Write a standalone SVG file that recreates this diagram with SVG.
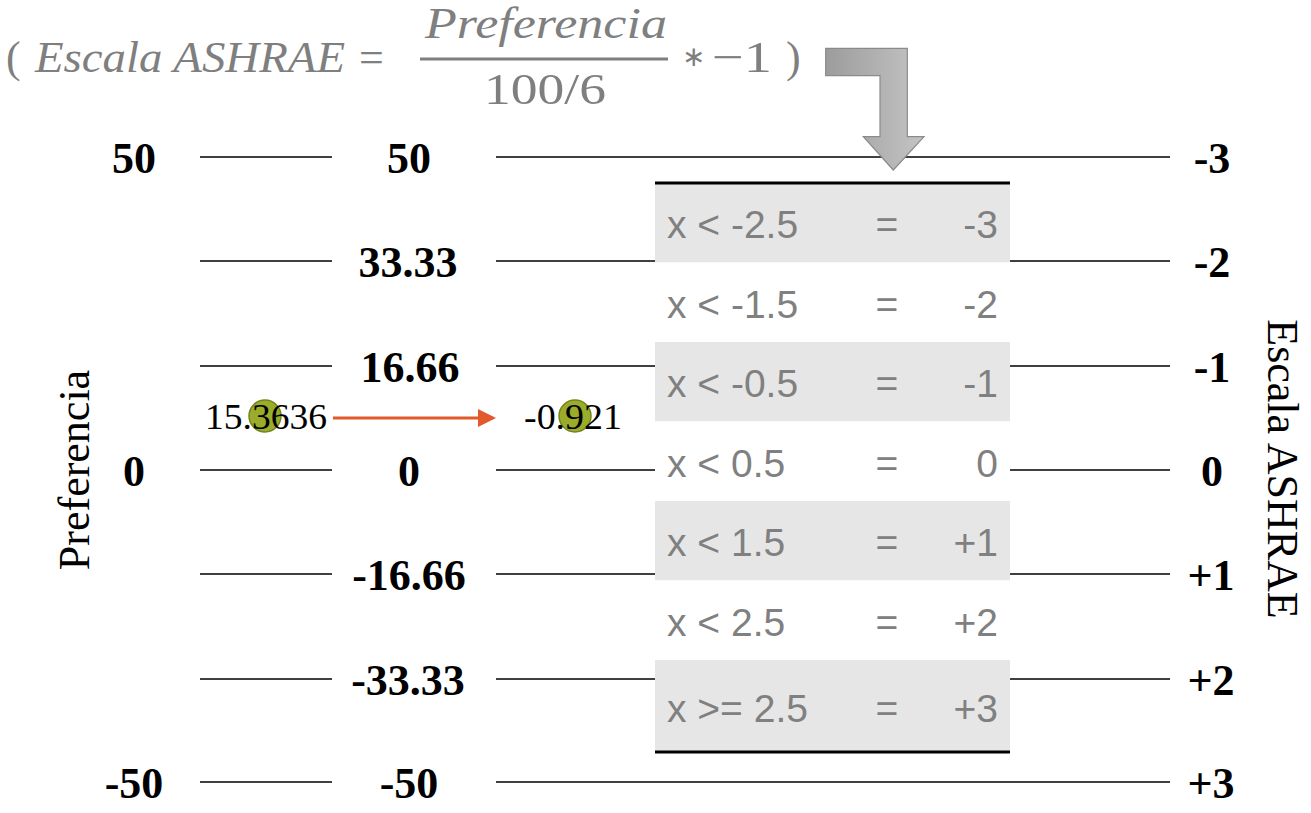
<svg xmlns="http://www.w3.org/2000/svg" width="1311" height="813" viewBox="0 0 1311 813">
<style>
.lbl{font-family:"Liberation Serif","Times New Roman",serif;font-weight:bold;font-size:44px;fill:#000;text-anchor:middle}
.val{font-family:"Liberation Serif","Times New Roman",serif;font-size:36px;fill:#000}
.axis{font-family:"Liberation Serif","Times New Roman",serif;font-size:44px;fill:#000;text-anchor:middle}
.tt{font-family:"Liberation Sans",Arial,sans-serif;font-size:39px;fill:#808080}
.fm{font-family:"Liberation Serif","Times New Roman",serif;font-size:44px;fill:#7f7f7f}
.fi{font-style:italic}
.hl{stroke:#000;stroke-width:1.5;fill:none}
.gray{fill:#e6e6e6}
.white{fill:#fff}
.dot{fill:#9bab2a;stroke:#74841c;stroke-width:1.5}
</style>
<defs>
<linearGradient id="bentGrad" x1="0" y1="0" x2="1" y2="0">
<stop offset="0" stop-color="#9c9c9c"/>
<stop offset="1" stop-color="#c4c4c4"/>
</linearGradient>
<marker id="redHead" markerWidth="6" markerHeight="6" refX="5" refY="3" orient="auto" markerUnits="strokeWidth">
<path d="M0,0 L6,3 L0,6 z" fill="#e2592b"/>
</marker>
</defs>
<rect width="1311" height="813" fill="#fff"/>

<g id="connectors">
<line class="hl" x1="200" y1="157" x2="332" y2="157"/>
<line class="hl" x1="200" y1="261" x2="332" y2="261"/>
<line class="hl" x1="200" y1="366" x2="332" y2="366"/>
<line class="hl" x1="200" y1="470" x2="332" y2="470"/>
<line class="hl" x1="200" y1="574" x2="332" y2="574"/>
<line class="hl" x1="200" y1="679" x2="332" y2="679"/>
<line class="hl" x1="200" y1="782" x2="332" y2="782"/>
<line class="hl" x1="496" y1="157" x2="1170" y2="157"/>
<line class="hl" x1="496" y1="261" x2="1170" y2="261"/>
<line class="hl" x1="496" y1="366" x2="1170" y2="366"/>
<line class="hl" x1="496" y1="470" x2="1170" y2="470"/>
<line class="hl" x1="496" y1="574" x2="1170" y2="574"/>
<line class="hl" x1="496" y1="679" x2="1170" y2="679"/>
<line class="hl" x1="496" y1="782" x2="1170" y2="782"/>
</g>

<g id="table">
<rect class="gray" x="655" y="183" width="355" height="79.5"/>
<rect class="white" x="655" y="262.5" width="355" height="79.5"/>
<rect class="gray" x="655" y="342" width="355" height="79.5"/>
<rect class="white" x="655" y="421.5" width="355" height="79.5"/>
<rect class="gray" x="655" y="501" width="355" height="79.5"/>
<rect class="white" x="655" y="580.5" width="355" height="79.5"/>
<rect class="gray" x="655" y="660" width="355" height="92"/>
<line x1="655" y1="183" x2="1010" y2="183" stroke="#000" stroke-width="3"/>
<line x1="655" y1="752" x2="1010" y2="752" stroke="#000" stroke-width="3"/>
<g class="tt">
<text x="667" y="238">x &lt; -2.5</text>
<text x="667" y="317.5">x &lt; -1.5</text>
<text x="667" y="397">x &lt; -0.5</text>
<text x="667" y="476.5">x &lt; 0.5</text>
<text x="667" y="556">x &lt; 1.5</text>
<text x="667" y="635.5">x &lt; 2.5</text>
<text x="667" y="722">x &gt;= 2.5</text>
</g>
<g class="tt" text-anchor="middle">
<text x="887" y="238">=</text>
<text x="887" y="317.5">=</text>
<text x="887" y="397">=</text>
<text x="887" y="476.5">=</text>
<text x="887" y="556">=</text>
<text x="887" y="635.5">=</text>
<text x="887" y="722">=</text>
</g>
<g class="tt" text-anchor="end">
<text x="998" y="238">-3</text>
<text x="998" y="317.5">-2</text>
<text x="998" y="397">-1</text>
<text x="998" y="476.5">0</text>
<text x="998" y="556">+1</text>
<text x="998" y="635.5">+2</text>
<text x="998" y="722">+3</text>
</g>
</g>

<g id="bent-arrow">
<path d="M825.7,48.3 L907.3,48.3 L907.3,136.7 L924,136.7 L893.3,170 L863.3,136.7 L880,136.7 L880,75.7 L825.7,75.7 Z" fill="url(#bentGrad)" stroke="#8a8a8a" stroke-width="1.2"/>
</g>

<g id="formula">
<text class="fm" x="6" y="72">(</text>
<text class="fm fi" x="35" y="72" textLength="310" lengthAdjust="spacingAndGlyphs">Escala ASHRAE</text>
<text class="fm" x="359" y="72">=</text>
<text class="fm fi" x="425" y="38" textLength="242" lengthAdjust="spacingAndGlyphs">Preferencia</text>
<line x1="420" y1="59" x2="668" y2="59" stroke="#7f7f7f" stroke-width="3"/>
<text class="fm" x="484" y="104" textLength="122" lengthAdjust="spacingAndGlyphs">100/6</text>
<text class="fm" x="682" y="66" style="font-size:28px">∗</text>
<text class="fm" x="712" y="72" textLength="60" lengthAdjust="spacingAndGlyphs">−1</text>
<text class="fm" x="786" y="72">)</text>
</g>

<g id="left-scale">
<text class="lbl" x="134" y="173">50</text>
<text class="lbl" x="134" y="486">0</text>
<text class="lbl" x="134" y="798">-50</text>
</g>

<g id="middle-scale">
<text class="lbl" x="409" y="173">50</text>
<text class="lbl" x="408" y="277">33.33</text>
<text class="lbl" x="410" y="382">16.66</text>
<text class="lbl" x="409" y="486">0</text>
<text class="lbl" x="409" y="590">-16.66</text>
<text class="lbl" x="408" y="695">-33.33</text>
<text class="lbl" x="409" y="798">-50</text>
</g>

<g id="right-scale">
<text class="lbl" x="1212" y="173">-3</text>
<text class="lbl" x="1212" y="277">-2</text>
<text class="lbl" x="1212" y="382">-1</text>
<text class="lbl" x="1212" y="486">0</text>
<text class="lbl" x="1211" y="590">+1</text>
<text class="lbl" x="1211" y="695">+2</text>
<text class="lbl" x="1211" y="798">+3</text>
</g>

<g id="axis-preferencia">
<text class="axis" transform="translate(89,470) rotate(-90)">Preferencia</text>
</g>
<g id="axis-ashrae">
<text class="axis" transform="translate(1268,469) rotate(90)">Escala ASHRAE</text>
</g>

<g id="example-input">
<circle class="dot" cx="265" cy="416" r="16"/>
<text class="val" x="205" y="429" textLength="122" lengthAdjust="spacingAndGlyphs">15.3636</text>
</g>
<g id="example-output">
<circle class="dot" cx="575" cy="416" r="16"/>
<text class="val" x="524" y="429" textLength="98" lengthAdjust="spacingAndGlyphs">-0.921</text>
</g>
<g id="example-arrow">
<line x1="333" y1="418" x2="493" y2="418" stroke="#e2592b" stroke-width="3" marker-end="url(#redHead)"/>
</g>
</svg>
